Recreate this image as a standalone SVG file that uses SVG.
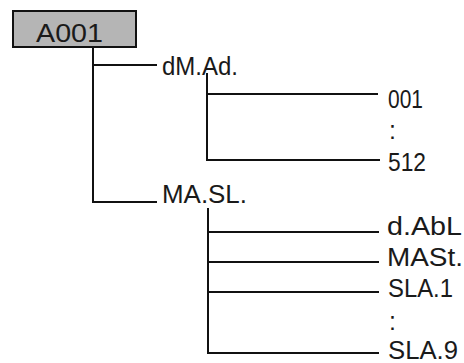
<svg xmlns="http://www.w3.org/2000/svg" width="464" height="363" viewBox="0 0 464 363">
<style>
.t{font-family:"Liberation Sans",Arial,sans-serif;font-size:25px;fill:#1a1a1a}
.c line{stroke:#111;stroke-width:2;stroke-linecap:square}
</style>
<rect width="464" height="363" fill="#fff"/>
<g id="A001">
<rect x="13" y="11" width="123" height="36" fill="#b5b5b5" stroke="#111" stroke-width="2"/>
<text class="t" x="36" y="42" font-size="32" textLength="67" lengthAdjust="spacingAndGlyphs">A001</text>
</g>
<g class="c" id="connectors">
<line x1="93" y1="47" x2="93" y2="202"/>
<line x1="93" y1="65" x2="156" y2="65"/>
<line x1="93" y1="202" x2="156" y2="202"/>
<line x1="207" y1="74" x2="207" y2="160"/>
<line x1="207" y1="94" x2="377" y2="94"/>
<line x1="207" y1="160" x2="379" y2="160"/>
<line x1="208" y1="209" x2="208" y2="353"/>
<line x1="208" y1="232" x2="378" y2="232"/>
<line x1="209" y1="262" x2="378" y2="262"/>
<line x1="210" y1="292" x2="378" y2="292"/>
<line x1="209" y1="353" x2="378" y2="353"/>
</g>
<g id="dMAd"><text class="t" x="162" y="75" textLength="76" lengthAdjust="spacingAndGlyphs">dM.Ad.</text></g>
<g id="n001"><text class="t" x="388" y="108" textLength="35" lengthAdjust="spacingAndGlyphs">001</text></g>
<g id="dots1"><text class="t" x="389" y="139">:</text></g>
<g id="n512"><text class="t" x="388" y="171" textLength="38" lengthAdjust="spacingAndGlyphs">512</text></g>
<g id="MASL"><text class="t" x="162" y="203" textLength="85" lengthAdjust="spacingAndGlyphs">MA.SL.</text></g>
<g id="dAbL"><text class="t" x="387" y="235" textLength="75" lengthAdjust="spacingAndGlyphs">d.AbL</text></g>
<g id="MASt"><text class="t" x="387" y="266" textLength="76" lengthAdjust="spacingAndGlyphs">MASt.</text></g>
<g id="SLA1"><text class="t" x="388" y="297" textLength="65" lengthAdjust="spacingAndGlyphs">SLA.1</text></g>
<g id="dots2"><text class="t" x="389" y="330">:</text></g>
<g id="SLA9"><text class="t" x="388" y="359" textLength="70" lengthAdjust="spacingAndGlyphs">SLA.9</text></g>
</svg>
